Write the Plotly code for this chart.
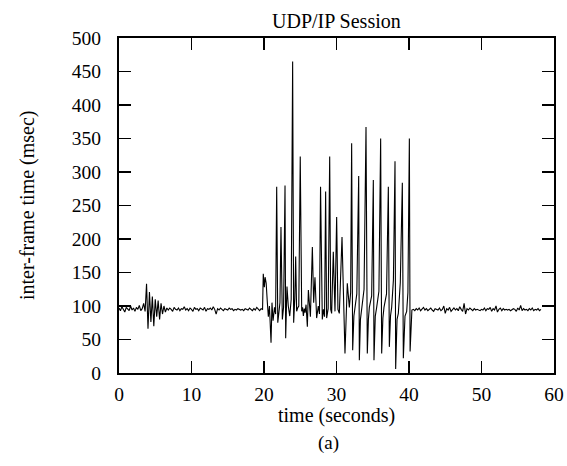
import plotly.graph_objects as go

# ---- data ----
# steady section before the burst: samples every 0.2 s starting at 0.0 s
base1_start, base1_step = 0.0, 0.2
base1_ms = [
    97, 93, 99, 95, 91, 98, 96, 93, 100, 94, 97, 92, 98, 95, 101, 93, 96, 104, 92,
    133, 66, 121, 76, 114, 70, 110, 84, 108, 80, 104, 88, 100, 91, 97,
    94, 97, 95, 92, 98, 95, 94, 97, 93, 96,
    95, 99, 94, 96, 93, 97, 95, 92, 98, 95,
    96, 93, 97, 95, 94, 98, 92, 96, 95, 97,
    94, 99, 95, 88, 96, 94, 97, 95, 93, 96,
    95, 94, 97, 95, 96, 93, 95, 94, 96, 95,
    94, 95, 93, 96, 95, 94, 97, 95, 93, 96,
    94, 98, 95, 93, 96,
]

# congested section (irregular sample times)
burst_t = [
    19.8, 19.9, 20.05, 20.15, 20.3, 20.45, 20.6, 20.75, 20.97, 21.1, 21.25, 21.45, 21.6,
    21.75, 21.9, 22.07, 22.2, 22.34, 22.53, 22.7, 22.9, 22.99, 23.17, 23.35, 23.55, 23.75,
    23.95, 24.09, 24.25, 24.37, 24.5, 24.64, 24.8, 25.0, 25.2, 25.32, 25.43, 25.55, 25.66,
    25.8, 25.98, 26.12, 26.25, 26.4, 26.67, 26.85, 27.03, 27.15, 27.26, 27.49, 27.65, 27.8,
    28.04, 28.2, 28.35, 28.5, 28.64, 28.85, 29.06, 29.2, 29.33, 29.56, 29.79, 30.02, 30.2,
    30.39, 30.6, 30.76, 31.17, 31.35, 31.49, 31.77, 31.95, 32.09, 32.23, 32.4, 32.55, 32.8,
    33.06, 33.15, 33.3, 33.47, 33.8, 34.07, 34.25, 34.4, 34.53, 34.85, 35.08, 35.17, 35.35,
    35.54, 35.85, 36.09, 36.23, 36.4, 36.55, 36.9, 37.15, 37.29, 37.45, 37.61, 37.85, 38.07,
    38.16, 38.35, 38.53, 38.8, 39.08, 39.22, 39.45, 39.68, 39.85, 40.05, 40.15, 40.4,
]
burst_ms = [
    95, 148, 128, 143, 134, 107, 84, 100, 45, 105, 78, 98, 88,
    278, 75, 92, 105, 218, 80, 98, 280, 52, 129, 100, 85, 110,
    465, 75, 112, 174, 92, 97, 100, 323, 92, 98, 85, 96, 90,
    102, 69, 124, 95, 84, 188, 105, 143, 95, 82, 100, 88, 278,
    80, 95, 84, 271, 82, 96, 323, 95, 89, 181, 92, 233, 95,
    89, 150, 203, 29, 98, 134, 98, 120, 343, 34, 85, 98, 118,
    294, 19, 80, 98, 125, 367, 29, 80, 98, 115, 288, 19, 85,
    98, 122, 350, 29, 82, 98, 118, 278, 39, 85, 98, 139, 316,
    6, 80, 89, 135, 284, 22, 85, 92, 120, 350, 32, 94,
]

# steady section after the burst: samples every 0.2 s starting at 40.6 s
base2_start, base2_step = 40.6, 0.2
base2_ms = [
    95, 93, 96, 94, 97, 93, 95, 98, 94, 96,
    93, 95, 97, 94, 92, 96, 95, 94, 97, 93,
    95, 100, 89, 96, 94, 98, 92, 95, 97, 94,
    96, 93, 99, 95, 92, 104, 88, 96, 94, 97,
    95, 93, 96, 94, 95, 94, 93, 95, 94, 97,
    93, 96, 95, 98, 92, 96, 94, 100, 91, 95,
    97, 93, 96, 94, 95, 94, 95, 93, 94, 96,
    95, 92, 97, 94, 101, 93, 96, 94, 95, 93,
    96, 94, 97, 93, 95, 94, 96, 93, 95,
]

x_ticks = [0, 10, 20, 30, 40, 50, 60]
y_ticks = [0, 50, 100, 150, 200, 250, 300, 350, 400, 450, 500]

title_text = "UDP/IP Session"
x_label = "time (seconds)"
y_label = "inter-frame time (msec)"
caption = "(a)"

# ---- assemble series ----
t_all = [round(base1_start + i * base1_step, 3) for i in range(len(base1_ms))]
y_all = list(base1_ms)
t_all += burst_t
y_all += burst_ms
t_all += [round(base2_start + i * base2_step, 3) for i in range(len(base2_ms))]
y_all += base2_ms

W, H = 567, 466
L, R, T, B = 119, 554, 38, 373  # plot box in page pixels


def px_x(px):
    return (px - L) / (R - L)


def px_y(py):
    return (B - py) / (B - T)


FONT = "Liberation Serif, Times New Roman, serif"

fig = go.Figure()
fig.add_trace(go.Scatter(x=t_all, y=y_all, mode="lines",
                         line=dict(color="black", width=1.1),
                         showlegend=False, hoverinfo="skip"))

axis_common = dict(showline=True, linecolor="black", linewidth=2, mirror="ticks",
                   ticks="inside", ticklen=12, tickwidth=1.6, tickcolor="black",
                   showgrid=False, zeroline=False,
                   tickfont=dict(family=FONT, size=19.5, color="black"))

fig.update_xaxes(range=[0, 60], tickvals=x_ticks, ticktext=[str(v) for v in x_ticks],
                 ticklabelstandoff=3, **axis_common)
fig.update_yaxes(range=[0, 500], tickvals=y_ticks, ticktext=[str(v) for v in y_ticks],
                 ticklabelstandoff=12, **axis_common)

fig.update_layout(
    width=W, height=H,
    margin=dict(l=L, r=W - R, t=T, b=H - B, autoexpand=False),
    paper_bgcolor="white", plot_bgcolor="white",
    font=dict(family=FONT, color="black"),
    hovermode=False,
    annotations=[
        dict(text=title_text, x=px_x(336), y=px_y(21), xref="paper", yref="paper",
             xanchor="center", yanchor="middle", showarrow=False,
             font=dict(family=FONT, size=20, color="black")),
        dict(text=x_label, x=px_x(336), y=px_y(416), xref="paper", yref="paper",
             xanchor="center", yanchor="middle", showarrow=False,
             font=dict(family=FONT, size=20, color="black")),
        dict(text=y_label, x=px_x(27), y=px_y(205), xref="paper", yref="paper",
             xanchor="center", yanchor="middle", showarrow=False, textangle=-90,
             font=dict(family=FONT, size=20, color="black")),
        dict(text=caption, x=px_x(328), y=px_y(443), xref="paper", yref="paper",
             xanchor="center", yanchor="middle", showarrow=False,
             font=dict(family=FONT, size=19, color="black")),
    ],
)

fig.write_html(
    "out.html",
    config={"displayModeBar": False, "staticPlot": True},
    post_script="document.body.style.margin='0';document.body.style.overflow='hidden';",
)
